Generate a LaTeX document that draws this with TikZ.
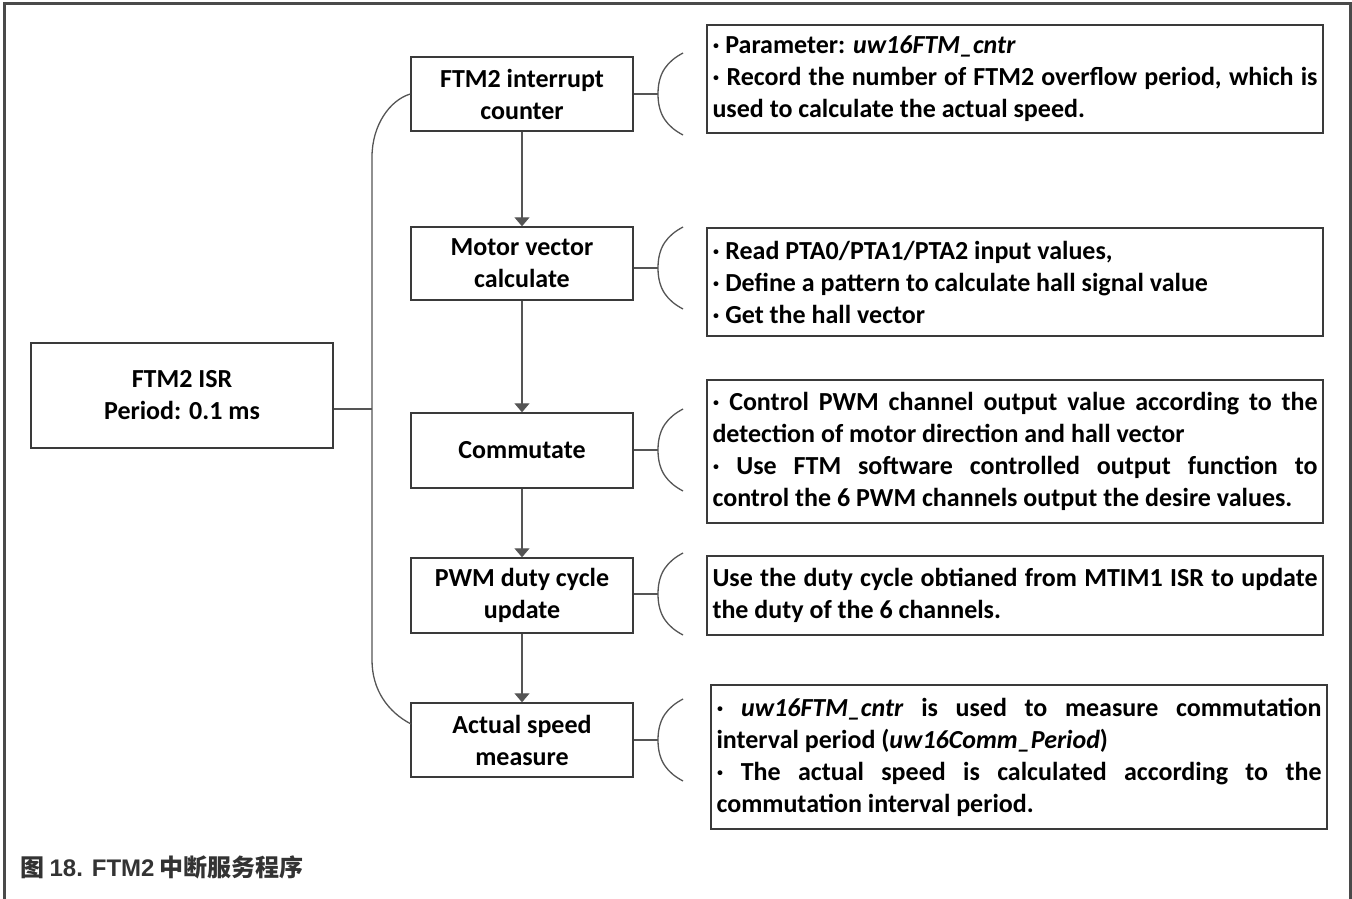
\documentclass[tikz,border=0pt]{standalone}
\usepackage{fontspec}
\setmainfont{Carlito}
\newfontfamily\cjk{Noto Sans CJK SC}
\newfontfamily\capsans{Liberation Sans}
\usetikzlibrary{arrows.meta}
\definecolor{framegray}{HTML}{4A4A4A}
\definecolor{boxgray}{HTML}{3A3A3A}
\definecolor{linegray}{HTML}{555555}
\definecolor{captext}{HTML}{333333}
\begin{document}
\begin{tikzpicture}[x=1pt,y=-1pt,
  txt/.style={font=\fontsize{26}{32}\selectfont\bfseries},
  stepbox/.style={draw=boxgray,line width=1.4pt,txt,align=center,
    minimum width=222pt,inner sep=0pt},
  notebox/.style={draw=boxgray,line width=1.4pt,txt,align=justify,
    text width=605pt,inner xsep=5.5pt,inner ysep=0pt},
  conn/.style={draw=linegray,line width=1.3pt},
  flow/.style={conn,-{Triangle[width=15pt,length=9pt]}}]
\useasboundingbox (0,0) rectangle (1352,898);

% outer frame (open at the bottom)
\draw[framegray,line width=3pt] (4,900) -- (4,3.5) -- (1350.5,3.5) -- (1350.5,900);

% ISR entry box
\node[draw=boxgray,line width=1.4pt,txt,align=center,minimum width=302pt,
  minimum height=105pt,inner sep=0pt] (isr) at (182,395.5)
  {FTM2 ISR\\Period: 0.1 ms};

% processing steps
\node[stepbox,minimum height=74pt] (b1) at (522,94) {FTM2 interrupt\\counter};
\node[stepbox,minimum height=73pt] (b2) at (522,263.5) {Motor vector\\calculate};
\node[stepbox,minimum height=75pt] (b3) at (522,450.5) {Commutate};
\node[stepbox,minimum height=75pt] (b4) at (522,595.5) {PWM duty cycle\\update};
\node[stepbox,minimum height=74pt] (b5) at (522,740) {Actual speed\\measure};

% explanatory notes
\node[notebox,minimum height=108pt] (n1) at (1015,79)
  {· Parameter: \textit{uw16FTM\_cntr}\par
   · Record the number of FTM2 overflow period, which is\linebreak
   used to calculate the actual speed.};
\node[notebox,minimum height=108pt] (n2) at (1015,282)
  {· Read PTA0/PTA1/PTA2 input values,\par
   · Define a pattern to calculate hall signal value\par
   · Get the hall vector};
\node[notebox,minimum height=143pt] (n3) at (1015,451.5)
  {· Control PWM channel output value according to the\linebreak
   detection of motor direction and hall vector\par
   · Use FTM software controlled output function to\linebreak
   control the 6 PWM channels output the desire values.};
\node[notebox,minimum height=79pt] (n4) at (1015,595.5)
  {Use the duty cycle obtianed from MTIM1 ISR to update\linebreak
   the duty of the 6 channels.};
\node[notebox,minimum height=144pt] (n5) at (1019,757)
  {· \textit{uw16FTM\_cntr} is used to measure commutation\linebreak
   interval period (\textit{uw16Comm\_Period})\par
   · The actual speed is calculated according to the\linebreak
   commutation interval period.};

% flow arrows
\draw[flow] (b1) -- (b2);
\draw[flow] (b2) -- (b3);
\draw[flow] (b3) -- (b4);
\draw[flow] (b4) -- (b5);

% left bracket gathering the steps
\coordinate (j) at (372,409);
\coordinate (e5) at (411,724);
\draw[conn] (isr.east |- j) -- (j);
\draw[conn] (b1.west) .. controls (390,100) and (372,125) .. (372,157)
  -- (372,660) .. controls (372,690) and (388,712) .. (e5);

% braces towards the notes
\foreach \n/\y in {b1/94,b2/268,b3/450,b4/594,b5/740}{
  \draw[conn] (\n.east |- 0,\y) -- (658,\y);
  \draw[conn] (658,\y) .. controls (658,\y-22) and (668,\y-33) .. (683,\y-41);
  \draw[conn] (658,\y) .. controls (658,\y+22) and (668,\y+33) .. (683,\y+41);
}

% caption
\node[anchor=west,inner sep=0pt,text=captext,font=\fontsize{24}{28}\selectfont\bfseries] (cap) at (20,867)
  {{\cjk 图} {\capsans 18. FTM2} {\cjk 中断服务程序}};
\end{tikzpicture}
\end{document}
